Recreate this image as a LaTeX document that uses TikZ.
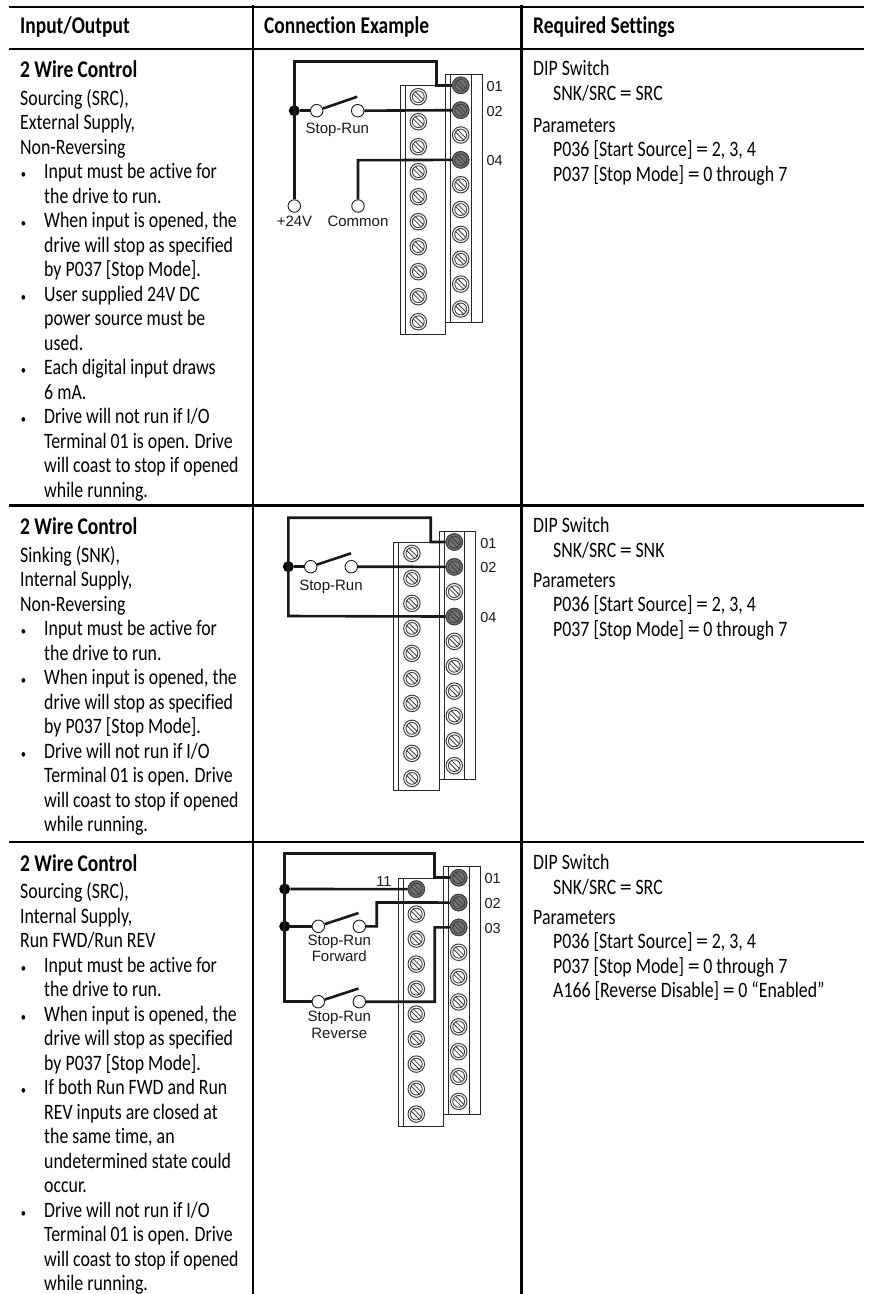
\documentclass[tikz,border=0pt]{standalone}
\usepackage{fontspec}
\setmainfont[FakeStretch=0.81,Ligatures=NoCommon]{Carlito}
\newfontfamily\labelfont{Liberation Sans}
\usetikzlibrary{positioning}

\tikzset{
  rule/.style={line width=2.6pt},
  wire/.style={line width=2.6pt, draw=black!90},
  thinbox/.style={line width=1pt, draw=black!85},
  head/.style={anchor=base west, inner sep=0, font=\fontsize{24}{24}\selectfont\bfseries},
  body/.style={anchor=north west, inner sep=0, align=left, font=\fontsize{22}{24.5}\selectfont},
  lab/.style={inner sep=0, font=\fontsize{15}{16.5}\selectfont\labelfont, align=center, text=black!90},
  numlab/.style={lab, yshift=-1pt, font=\fontsize{14.5}{16}\selectfont\labelfont},
  contact/.style={circle, draw=black!90, fill=white, line width=0.9pt, inner sep=0, minimum size=12.5},
  junction/.style={circle, fill=black, inner sep=0, minimum size=11},
  screw/.style={circle, draw=black!75, fill=#1, line width=1pt, inner sep=0, minimum size=16.5,
    path picture={
      \draw[black!75, line width=0.9pt] (path picture bounding box.center) circle (5.9);
      \draw[black!75, line width=0.8pt] ([shift={(-5.5,-3.3)}]path picture bounding box.center) -- ([shift={(3.3,5.5)}]path picture bounding box.center);
      \draw[black!75, line width=0.8pt] ([shift={(-3.3,-5.5)}]path picture bounding box.center) -- ([shift={(5.5,3.3)}]path picture bounding box.center);
    }},
  screw/.default=white
}
\newcommand{\bul}{\makebox[24pt][l]{\hspace{0.6pt}{\fontsize{13}{13}\selectfont\textbullet}}}
\newcommand{\ind}{\hspace*{24pt}}
\newcommand{\eqs}{\,\scalebox{1.35}[1]{=}\,}

% the two strips of screws; #1 prefix, (#2,#3) = screw 01 of the right strip
\newcommand{\terminals}[3]{
  \begin{scope}[shift={(#2,#3)}]
    \draw[thinbox] (-15,-11) rectangle (21.6,237);
    \draw[thinbox] (-10,-11) -- (-10,237);
    \draw[thinbox] (10.3,-11) -- (10.3,237);
    \draw[thinbox, fill=white] (-60.4,0.4) rectangle (-15,248.7);
    \draw[thinbox] (-55.4,0.4) -- (-55.4,248.7);
    \foreach \i in {1,...,10} {
      \node[screw] (#1r\i) at (0,{(\i-1)*24.85}) {};
      \node[screw] (#1l\i) at (-42.4,{11.4+(\i-1)*25}) {};
    }
  \end{scope}
}

\begin{document}
\begin{tikzpicture}[x=1pt,y=-1pt]
  \useasboundingbox (0,0) rectangle (870,1294);
  % table
  \draw[rule] (9,7) -- (864,7);
  \draw[rule] (9,49) -- (864,49);
  \draw[rule] (9,505.7) -- (864,505.7);
  \draw[rule] (9,842) -- (864,842);
  \draw[rule] (253,5) -- (253,1294);
  \draw[rule] (521.7,5) -- (521.7,1294);
  \node[head] (hio) at (20,33.5) {Input/Output};
  \node[head] (hconn) at (264,33.5) {Connection Example};
  \node[head] (hset) at (533,33.5) {Required Settings};

  % first row
  \node[head] (ttlA) at (20,77) {2 Wire Control};
  \node[body] (txtA) at (20,89) {Sourcing (SRC),\\External Supply,\\Non-Reversing\\
    \bul Input must be active for\\\ind the drive to run.\\
    \bul When input is opened, the\\\ind drive will stop as specified\\\ind by P037 [Stop Mode].\\
    \bul User supplied 24V DC\\\ind power source must be\\\ind used.\\
    \bul Each digital input draws\\\ind 6 mA.\\
    \bul Drive will not run if I/O\\\ind Terminal 01 is open. Drive\\\ind will coast to stop if opened\\\ind while running.};
  \node[body] (dipA) at (533,60.5) {DIP Switch\\\hspace*{20pt}SNK/SRC\eqs SRC};
  \node[body] (parA) at (533,118) {Parameters\\\hspace*{20pt}P036 [Start Source]\eqs 2, 3, 4\\\hspace*{20pt}P037 [Stop Mode]\eqs 0 through 7};

  \terminals{a}{460.7}{85.3}
  \node[screw=black!55] at (ar1) {};
  \node[screw=black!55] at (ar2) {};
  \node[screw=black!55] at (ar4) {};
  \node[numlab, right=17 of ar1] (a01) {01};
  \node[numlab, right=17 of ar2] (a02) {02};
  \node[numlab, right=17 of ar4] (a04) {04};
  \node[contact] (ap) at (294.3,206) {};
  \node[lab] (apl) at (294.5,221.7) {+24V};
  \node[contact] (ac) at (358,206) {};
  \node[lab] (acl) at (358,221.7) {Common};
  \node[junction] (aj) at (294.3,110.7) {};
  \node[contact] (as1) at (316.7,110.7) {};
  \node[contact] (as2) at (357.7,110.7) {};
  \node[lab] (asl) at (337.3,130) {Stop-Run};
  \coordinate (at1) at (294.3,61.7);
  \coordinate (at2) at (436.7,61.7);
  \coordinate (at3) at (436.7,85.3);
  \coordinate (ac1) at (358,160.2);
  \coordinate (abl) at (357.3,96.7);
  \draw[wire] (ap) -- (at1) -- (at2) -- (at3) -- (ar1);
  \draw[wire] (aj) -- (as1);
  \draw[wire] (as2) -- (ar2);
  \draw[wire] (ac) -- (ac1) -- (ar4);
  \draw[wire] (as1) -- (abl);

  % second row
  \node[head] (ttlB) at (20,534) {2 Wire Control};
  \node[body] (txtB) at (20,546) {Sinking (SNK),\\Internal Supply,\\Non-Reversing\\
    \bul Input must be active for\\\ind the drive to run.\\
    \bul When input is opened, the\\\ind drive will stop as specified\\\ind by P037 [Stop Mode].\\
    \bul Drive will not run if I/O\\\ind Terminal 01 is open. Drive\\\ind will coast to stop if opened\\\ind while running.};
  \node[body] (dipB) at (533,517.5) {DIP Switch\\\hspace*{20pt}SNK/SRC\eqs SNK};
  \node[body] (parB) at (533,573) {Parameters\\\hspace*{20pt}P036 [Start Source]\eqs 2, 3, 4\\\hspace*{20pt}P037 [Stop Mode]\eqs 0 through 7};

  \terminals{b}{454.3}{542}
  \node[screw=black!55] at (br1) {};
  \node[screw=black!55] at (br2) {};
  \node[screw=black!55] at (br4) {};
  \node[numlab, right=17 of br1] (b01) {01};
  \node[numlab, right=17 of br2] (b02) {02};
  \node[numlab, right=17 of br4] (b04) {04};
  \node[junction] (bj) at (288.3,566.7) {};
  \node[contact] (bs1) at (310.7,566.7) {};
  \node[contact] (bs2) at (351.3,566.7) {};
  \node[lab] (bsl) at (331,586.7) {Stop-Run};
  \coordinate (bt1) at (288.3,517.7);
  \coordinate (bt2) at (430.7,517.7);
  \coordinate (bt3) at (430.7,542);
  \coordinate (bt4) at (288.3,616);
  \coordinate (bbl) at (351,553.3);
  \draw[wire] (br4) -- (bt4) -- (bt1) -- (bt2) -- (bt3) -- (br1);
  \draw[wire] (bj) -- (bs1);
  \draw[wire] (bs2) -- (br2);
  \draw[wire] (bs1) -- (bbl);

  % third row
  \node[head] (ttlC) at (20,871) {2 Wire Control};
  \node[body] (txtC) at (20,882.3) {Sourcing (SRC),\\Internal Supply,\\Run FWD/Run REV\\
    \bul Input must be active for\\\ind the drive to run.\\
    \bul When input is opened, the\\\ind drive will stop as specified\\\ind by P037 [Stop Mode].\\
    \bul If both Run FWD and Run\\\ind REV inputs are closed at\\\ind the same time, an\\\ind undetermined state could\\\ind occur.\\
    \bul Drive will not run if I/O\\\ind Terminal 01 is open. Drive\\\ind will coast to stop if opened\\\ind while running.};
  \node[body] (dipC) at (533,854.5) {DIP Switch\\\hspace*{20pt}SNK/SRC\eqs SRC};
  \node[body] (parC) at (533,910) {Parameters\\\hspace*{20pt}P036 [Start Source]\eqs 2, 3, 4\\\hspace*{20pt}P037 [Stop Mode]\eqs 0 through 7\\\hspace*{20pt}A166 [Reverse Disable]\eqs 0 “Enabled”};

  \terminals{c}{458.7}{877.7}
  \node[screw=black!55] at (cr1) {};
  \node[screw=black!55] at (cr2) {};
  \node[screw=black!55] at (cr3) {};
  \node[screw=black!55] at (cl1) {};
  \node[numlab, right=17 of cr1] (c01) {01};
  \node[numlab, right=17 of cr2] (c02) {02};
  \node[numlab, right=17 of cr3] (c03) {03};
  \node[numlab] (c11) at (384,880.7) {11};
  \node[junction] (cj1) at (284.7,889) {};
  \node[junction] (cj2) at (284.7,926.3) {};
  \node[contact] (cf1) at (318.3,926.3) {};
  \node[contact] (cf2) at (359.3,926.3) {};
  \node[contact] (cr1s) at (318.3,1001.7) {};
  \node[contact] (cr2s) at (359.3,1001.7) {};
  \node[lab] (cfl) at (339.3,948.5) {Stop-Run\\Forward};
  \node[lab] (crl) at (339.3,1025) {Stop-Run\\Reverse};
  \coordinate (ct1) at (284.7,853.3);
  \coordinate (ct2) at (434.7,853.3);
  \coordinate (ct3) at (434.7,877.7);
  \coordinate (ct4) at (284.7,1001.7);
  \coordinate (cu1) at (376.7,926.3);
  \coordinate (cu2) at (376.7,902.5);
  \coordinate (cv1) at (434.7,1001.7);
  \coordinate (cv2) at (434.7,927.4);
  \coordinate (cbf) at (358.5,913);
  \coordinate (cbr) at (358.5,988.5);
  \draw[wire] (cr1s) -- (ct4) -- (ct1) -- (ct2) -- (ct3) -- (cr1);
  \draw[wire] (cj1) -- (cl1);
  \draw[wire] (cj2) -- (cf1);
  \draw[wire] (cf2) -- (cu1) -- (cu2) -- (cr2);
  \draw[wire] (cr2s) -- (cv1) -- (cv2) -- (cr3);
  \draw[wire] (cf1) -- (cbf);
  \draw[wire] (cr1s) -- (cbr);
\end{tikzpicture}
\end{document}
